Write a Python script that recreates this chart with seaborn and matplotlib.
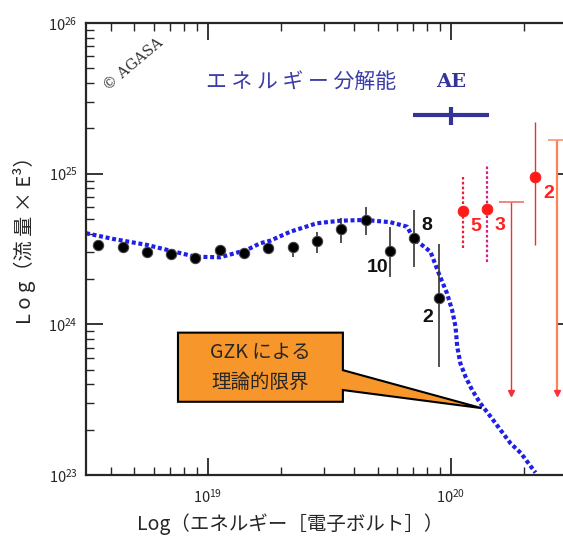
import numpy as np
import pandas as pd
import seaborn as sns
import matplotlib
matplotlib.use("Agg")
import matplotlib.pyplot as plt
from matplotlib.patches import Polygon

# ---------------- data (log10 values) ----------------
agasa_logE = [18.55, 18.65, 18.75, 18.85, 18.95, 19.05, 19.15, 19.25,
              19.35, 19.45, 19.55, 19.65, 19.75, 19.85, 19.95]
agasa_logF = [24.527, 24.516, 24.482, 24.467, 24.439, 24.494, 24.472, 24.505,
              24.512, 24.555, 24.633, 24.693, 24.487, 24.571, 24.173]
agasa_logF_hi = [24.55, 24.54, 24.505, 24.49, 24.46, 24.515, 24.495, 24.535,
                 24.549, 24.615, 24.706, 24.779, 24.648, 24.759, 24.532]
agasa_logF_lo = [24.505, 24.495, 24.46, 24.445, 24.42, 24.475, 24.45, 24.48,
                 24.449, 24.472, 24.540, 24.593, 24.317, 24.383, 23.719]
agasa_counts = {12: "10", 13: "8", 14: "2"}

red_logE = [20.050, 20.149, 20.344]
red_logF = [24.752, 24.764, 24.980]
red_logF_hi = [24.980, 25.058, 25.345]
red_logF_lo = [24.505, 24.416, 24.527]
red_counts = ["5", "3", "2"]

ul_logE = 20.249          # upper-limit bar
ul_top, ul_bottom = 24.814, 23.543
edge_logE = 20.438        # bar at right edge
edge_top, edge_bottom = 25.224, 23.545

gzk_logE = [18.50, 18.611, 18.751, 18.846, 18.949, 19.051, 19.161, 19.216,
            19.257, 19.340, 19.449, 19.546, 19.648, 19.751, 19.820, 19.846,
            19.916, 19.950, 19.984, 20.005, 20.019, 20.026, 20.039, 20.060,
            20.087, 20.121, 20.163, 20.204, 20.245, 20.288, 20.329, 20.348]
gzk_logF = [24.605, 24.567, 24.527, 24.489, 24.449, 24.445, 24.494, 24.538,
            24.555, 24.615, 24.671, 24.688, 24.693, 24.678, 24.648, 24.571,
            24.482, 24.339, 24.206, 24.095, 23.985, 23.852, 23.741, 23.653,
            23.565, 23.476, 23.388, 23.299, 23.211, 23.145, 23.056, 23.016]

res_center, res_half, res_logF = 20.0, 0.155, 25.39

# ---------------- figure ----------------
sns.set_style("ticks")
plt.rcParams['font.family'] = ['Noto Sans CJK JP', 'DejaVu Sans']
plt.rcParams['mathtext.fontset'] = 'custom'
plt.rcParams['mathtext.rm'] = 'Liberation Sans'
plt.rcParams['mathtext.it'] = 'Liberation Sans'

fig = plt.figure(figsize=(5.63, 5.39), dpi=100)
ax = fig.add_axes([0.1528, 0.1187, 0.8641, 0.8386])
ax.set_xscale('log')
ax.set_yscale('log')
ax.set_xlim(10**18.5, 10**20.5)
ax.set_ylim(1e23, 1e26)

p = lambda v: np.power(10.0, np.asarray(v, dtype=float))

df_gzk = pd.DataFrame({"E": p(gzk_logE), "F": p(gzk_logF)})
sns.lineplot(data=df_gzk, x="E", y="F", ax=ax, color="#1f1fe8", lw=3.0,
             dashes=False, sort=False)
ax.lines[-1].set_dashes((0.95, 0.65))

df_ag = pd.DataFrame({"E": p(agasa_logE), "F": p(agasa_logF)})
ax.vlines(df_ag["E"], p(agasa_logF_lo), p(agasa_logF_hi), color="#333333", lw=1.2, zorder=3)
sns.scatterplot(data=df_ag, x="E", y="F", ax=ax, color="black", s=55,
                edgecolor="#444444", linewidth=0.8, zorder=4)

offs = {"10": (-9, -12), "8": (9, 9), "2": (-8, -14)}
for i, lab in agasa_counts.items():
    ax.annotate(lab, (p(agasa_logE[i]), p(agasa_logF[i])), xytext=offs[lab],
                textcoords="offset points", ha="center", va="center",
                fontsize=14, fontweight="bold", family="Liberation Sans", color="#111111")

# red points
df_red = pd.DataFrame({"E": p(red_logE), "F": p(red_logF)})
styles = [dict(color="#e8203a", ls=(0, (1.2, 1.0)), lw=1.6),
          dict(color="#d0208a", ls=(0, (1.2, 1.0)), lw=1.6),
          dict(color="#e83030", ls="-", lw=1.0)]
for i in range(3):
    ax.vlines(p(red_logE[i]), p(red_logF_lo[i]), p(red_logF_hi[i]), zorder=3, **styles[i])
sns.scatterplot(data=df_red, x="E", y="F", ax=ax, color="#ff1a1a", s=60,
                edgecolor="#ff1a1a", zorder=4)
red_offs = [(9, -11), (9, -12), (10, -12)]
for i in range(3):
    ax.annotate(red_counts[i], (p(red_logE[i]), p(red_logF[i])), xytext=red_offs[i],
                textcoords="offset points", ha="center", va="center",
                fontsize=14, fontweight="bold", family="Liberation Sans", color="#ff2020")

# upper limit bar
ax.vlines(p(ul_logE), p(ul_bottom), p(ul_top), color="#f03040", lw=1.0)
ax.hlines(p(ul_top), p(ul_logE - 0.05), p(ul_logE + 0.05), color="#f07070", lw=1.2)
ax.plot([p(ul_logE)], [p(ul_bottom)], marker="v", color="#f03040", ms=5)
# bar at the right edge
ax.vlines(p(edge_logE), p(edge_bottom), p(edge_top), color="#ff8050", lw=1.6)
ax.hlines(p(edge_top), p(edge_logE - 0.04), p(edge_logE + 0.06), color="#ff9070", lw=1.2)
ax.plot([p(edge_logE)], [p(edge_bottom)], marker="v", color="#ff3040", ms=5)

# energy resolution bar
navy = "#33339a"
ax.hlines(p(res_logF), p(res_center - res_half), p(res_center + res_half), color=navy, lw=3)
ax.vlines(p(res_center), p(res_logF - 0.07), p(res_logF + 0.05), color=navy, lw=3)
ax.text(p(res_center), p(25.61), "AE", ha="center", va="center", color=navy,
        fontsize=14, fontweight="bold", family="DejaVu Serif")
ax.text(p(19.385), p(25.61), "エ ネ ル ギ ー 分解能", ha="center", va="center", color="#3a3aa8",
        fontsize=15)

ax.text(0.097, 0.908, "© AGASA", transform=ax.transAxes, rotation=40, ha="center",
        va="center", fontsize=10.5, family="DejaVu Serif", color="#333333")

# GZK callout
box = [(0.189, 0.315), (0.528, 0.315), (0.528, 0.232), (0.813, 0.148),
       (0.528, 0.188), (0.528, 0.162), (0.189, 0.162)]
ax.add_patch(Polygon(box, closed=True, transform=ax.transAxes, facecolor="#f7962a",
                     edgecolor="black", lw=1.5, zorder=5))
ax.text(0.358, 0.27, "GZK による", transform=ax.transAxes, ha="center", va="center",
        fontsize=14, zorder=6)
ax.text(0.358, 0.205, "理論的限界", transform=ax.transAxes, ha="center", va="center",
        fontsize=14, zorder=6)

# axes styling
ax.set_xlabel("Log（エネルギー［電子ボルト］）", fontsize=14)
ax.xaxis.set_label_coords(0.42, -0.085)
ax.set_ylabel("L o g（流 量 × E³）", fontsize=14.5)
ax.yaxis.set_label_coords(-0.103, 0.53)
for s in ax.spines.values():
    s.set_linewidth(1.6)
ax.tick_params(which="both", direction="in", top=True, right=True, labelsize=10.5)
ax.tick_params(axis="x", which="both", pad=9)
ax.tick_params(axis="y", which="both", pad=6)
ax.tick_params(which="major", length=12, width=1.3)
ax.tick_params(which="minor", length=6, width=1.0)

fig.savefig("out.png", dpi=100)
